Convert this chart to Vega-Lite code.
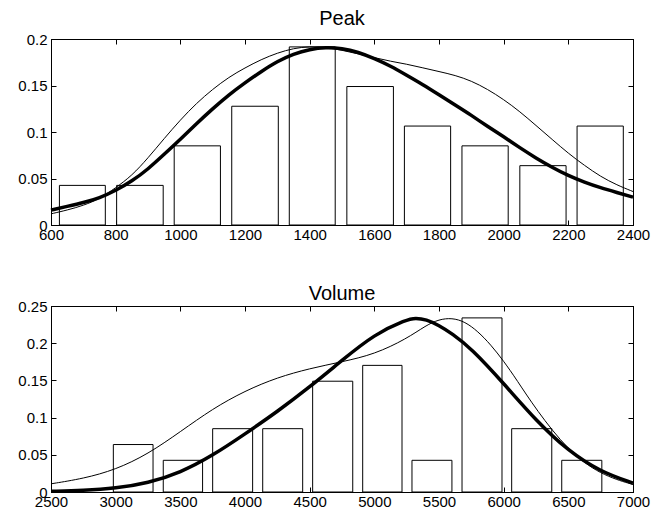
{
  "$schema": "https://vega.github.io/schema/vega-lite/v6.json",
  "padding": {"left": 17, "top": 8, "right": 5, "bottom": 0},
  "spacing": 40,
  "config": {
    "font": "Liberation Sans",
    "view": {"stroke": "black", "strokeWidth": 1},
    "axis": {"domainColor": "black", "tickColor": "black", "labelColor": "black", "labelFont": "Liberation Sans", "labelFontSize": 15, "grid": false, "title": null, "labelOverlap": false, "labelFlush": false},
    "title": {"font": "Liberation Sans", "fontSize": 20, "fontWeight": "normal", "color": "black", "baseline": "alphabetic"}
  },
  "datasets": {
    "peakBars": [
      {"x0": 626, "x1": 768, "density": 0.0426},
      {"x0": 803, "x1": 947, "density": 0.0426},
      {"x0": 981, "x1": 1124, "density": 0.0851},
      {"x0": 1159, "x1": 1303, "density": 0.1277},
      {"x0": 1337, "x1": 1479, "density": 0.1915},
      {"x0": 1515, "x1": 1659, "density": 0.1489},
      {"x0": 1693, "x1": 1836, "density": 0.1064},
      {"x0": 1871, "x1": 2014, "density": 0.0851},
      {"x0": 2050, "x1": 2193, "density": 0.0638},
      {"x0": 2227, "x1": 2370, "density": 0.1064}
    ],
    "peakKde": [
      {"x": 600, "density": 0.012}, {"x": 650, "density": 0.016}, {"x": 700, "density": 0.021}, {"x": 750, "density": 0.028},
      {"x": 800, "density": 0.040}, {"x": 850, "density": 0.053}, {"x": 900, "density": 0.072}, {"x": 950, "density": 0.093},
      {"x": 1000, "density": 0.113}, {"x": 1050, "density": 0.131}, {"x": 1100, "density": 0.146}, {"x": 1150, "density": 0.159},
      {"x": 1200, "density": 0.169}, {"x": 1250, "density": 0.178}, {"x": 1300, "density": 0.185}, {"x": 1350, "density": 0.190},
      {"x": 1400, "density": 0.192}, {"x": 1450, "density": 0.191}, {"x": 1500, "density": 0.188}, {"x": 1550, "density": 0.184},
      {"x": 1600, "density": 0.180}, {"x": 1650, "density": 0.176}, {"x": 1700, "density": 0.173}, {"x": 1750, "density": 0.169},
      {"x": 1800, "density": 0.165}, {"x": 1850, "density": 0.161}, {"x": 1900, "density": 0.155}, {"x": 1950, "density": 0.146},
      {"x": 2000, "density": 0.135}, {"x": 2050, "density": 0.122}, {"x": 2100, "density": 0.107}, {"x": 2150, "density": 0.092},
      {"x": 2200, "density": 0.077}, {"x": 2250, "density": 0.064}, {"x": 2300, "density": 0.052}, {"x": 2350, "density": 0.043},
      {"x": 2400, "density": 0.036}
    ],
    "peakFit": [
      {"x": 600, "density": 0.016}, {"x": 650, "density": 0.020}, {"x": 700, "density": 0.024}, {"x": 750, "density": 0.029},
      {"x": 800, "density": 0.037}, {"x": 850, "density": 0.047}, {"x": 900, "density": 0.060}, {"x": 950, "density": 0.076},
      {"x": 1000, "density": 0.092}, {"x": 1050, "density": 0.109}, {"x": 1100, "density": 0.125}, {"x": 1150, "density": 0.140},
      {"x": 1200, "density": 0.153}, {"x": 1250, "density": 0.165}, {"x": 1300, "density": 0.176}, {"x": 1350, "density": 0.184},
      {"x": 1400, "density": 0.189}, {"x": 1450, "density": 0.191}, {"x": 1500, "density": 0.190}, {"x": 1550, "density": 0.186},
      {"x": 1600, "density": 0.179}, {"x": 1650, "density": 0.171}, {"x": 1700, "density": 0.161}, {"x": 1750, "density": 0.151},
      {"x": 1800, "density": 0.140}, {"x": 1850, "density": 0.129}, {"x": 1900, "density": 0.118}, {"x": 1950, "density": 0.106},
      {"x": 2000, "density": 0.095}, {"x": 2050, "density": 0.083}, {"x": 2100, "density": 0.072}, {"x": 2150, "density": 0.062},
      {"x": 2200, "density": 0.053}, {"x": 2250, "density": 0.046}, {"x": 2300, "density": 0.040}, {"x": 2350, "density": 0.035},
      {"x": 2400, "density": 0.030}
    ],
    "volBars": [
      {"x0": 2982, "x1": 3289, "density": 0.0638},
      {"x0": 3368, "x1": 3672, "density": 0.0426},
      {"x0": 3750, "x1": 4059, "density": 0.0851},
      {"x0": 4137, "x1": 4446, "density": 0.0851},
      {"x0": 4523, "x1": 4833, "density": 0.1489},
      {"x0": 4910, "x1": 5214, "density": 0.1702},
      {"x0": 5291, "x1": 5600, "density": 0.0426},
      {"x0": 5678, "x1": 5987, "density": 0.2340},
      {"x0": 6062, "x1": 6372, "density": 0.0851},
      {"x0": 6449, "x1": 6759, "density": 0.0426}
    ],
    "volKde": [
      {"x": 2500, "density": 0.011}, {"x": 2750, "density": 0.018}, {"x": 3000, "density": 0.030}, {"x": 3250, "density": 0.051},
      {"x": 3500, "density": 0.081}, {"x": 3750, "density": 0.112}, {"x": 4000, "density": 0.136}, {"x": 4250, "density": 0.154},
      {"x": 4500, "density": 0.166}, {"x": 4750, "density": 0.175}, {"x": 5000, "density": 0.185}, {"x": 5250, "density": 0.206},
      {"x": 5400, "density": 0.224}, {"x": 5500, "density": 0.232}, {"x": 5600, "density": 0.234}, {"x": 5700, "density": 0.229},
      {"x": 5800, "density": 0.216}, {"x": 5900, "density": 0.198}, {"x": 6000, "density": 0.176}, {"x": 6100, "density": 0.151},
      {"x": 6250, "density": 0.111}, {"x": 6500, "density": 0.055}, {"x": 6750, "density": 0.023}, {"x": 7000, "density": 0.010}
    ],
    "volFit": [
      {"x": 2500, "density": 0.001}, {"x": 2750, "density": 0.002}, {"x": 3000, "density": 0.005}, {"x": 3250, "density": 0.012},
      {"x": 3500, "density": 0.026}, {"x": 3750, "density": 0.049}, {"x": 4000, "density": 0.078}, {"x": 4250, "density": 0.108},
      {"x": 4500, "density": 0.141}, {"x": 4750, "density": 0.177}, {"x": 5000, "density": 0.212}, {"x": 5250, "density": 0.232},
      {"x": 5320, "density": 0.234}, {"x": 5400, "density": 0.232}, {"x": 5500, "density": 0.224}, {"x": 5600, "density": 0.213},
      {"x": 5750, "density": 0.193}, {"x": 6000, "density": 0.146}, {"x": 6250, "density": 0.096}, {"x": 6500, "density": 0.055},
      {"x": 6750, "density": 0.027}, {"x": 7000, "density": 0.012}
    ]
  },
  "vconcat": [
    {
      "title": {"text": "Peak", "offset": 3},
      "width": 582,
      "height": 186,
      "resolve": {"axis": {"x": "independent", "y": "independent"}},
      "layer": [
        {
          "data": {"name": "peakBars"},
          "mark": {"type": "rect", "fill": "white", "stroke": "black", "strokeWidth": 1},
          "encoding": {
            "x": {"field": "x0", "type": "quantitative", "scale": {"domain": [600, 2400], "nice": false, "zero": false},
                  "axis": {"orient": "bottom", "values": [600, 800, 1000, 1200, 1400, 1600, 1800, 2000, 2200, 2400], "format": "d", "tickSize": -5, "labelPadding": 7}},
            "x2": {"field": "x1"},
            "y": {"field": "density", "type": "quantitative", "scale": {"domain": [0, 0.2], "nice": false},
                  "axis": {"orient": "left", "values": [0, 0.05, 0.1, 0.15, 0.2], "format": ".2~f", "tickSize": -5, "labelPadding": 9}},
            "y2": {"datum": 0}
          }
        },
        {
          "data": {"name": "peakKde"},
          "mark": {"type": "line", "color": "black", "strokeWidth": 1, "interpolate": "basis"},
          "encoding": {
            "x": {"field": "x", "type": "quantitative", "axis": {"orient": "top", "values": [600, 800, 1000, 1200, 1400, 1600, 1800, 2000, 2200, 2400], "labels": false, "tickSize": -5}},
            "y": {"field": "density", "type": "quantitative", "axis": {"orient": "right", "values": [0, 0.05, 0.1, 0.15, 0.2], "labels": false, "tickSize": -5}}
          }
        },
        {
          "data": {"name": "peakFit"},
          "mark": {"type": "line", "color": "black", "strokeWidth": 3.5, "interpolate": "basis"},
          "encoding": {
            "x": {"field": "x", "type": "quantitative", "axis": null},
            "y": {"field": "density", "type": "quantitative", "axis": null}
          }
        }
      ]
    },
    {
      "title": {"text": "Volume", "offset": -5},
      "width": 582,
      "height": 186,
      "resolve": {"axis": {"x": "independent", "y": "independent"}},
      "layer": [
        {
          "data": {"name": "volBars"},
          "mark": {"type": "rect", "fill": "white", "stroke": "black", "strokeWidth": 1},
          "encoding": {
            "x": {"field": "x0", "type": "quantitative", "scale": {"domain": [2500, 7000], "nice": false, "zero": false},
                  "axis": {"orient": "bottom", "values": [2500, 3000, 3500, 4000, 4500, 5000, 5500, 6000, 6500, 7000], "format": "d", "tickSize": -5, "labelPadding": 7}},
            "x2": {"field": "x1"},
            "y": {"field": "density", "type": "quantitative", "scale": {"domain": [0, 0.25], "nice": false},
                  "axis": {"orient": "left", "values": [0, 0.05, 0.1, 0.15, 0.2, 0.25], "format": ".2~f", "tickSize": -5, "labelPadding": 9}},
            "y2": {"datum": 0}
          }
        },
        {
          "data": {"name": "volKde"},
          "mark": {"type": "line", "color": "black", "strokeWidth": 1, "interpolate": "basis"},
          "encoding": {
            "x": {"field": "x", "type": "quantitative", "axis": {"orient": "top", "values": [2500, 3000, 3500, 4000, 4500, 5000, 5500, 6000, 6500, 7000], "labels": false, "tickSize": -5}},
            "y": {"field": "density", "type": "quantitative", "axis": {"orient": "right", "values": [0, 0.05, 0.1, 0.15, 0.2, 0.25], "labels": false, "tickSize": -5}}
          }
        },
        {
          "data": {"name": "volFit"},
          "mark": {"type": "line", "color": "black", "strokeWidth": 3.5, "interpolate": "basis"},
          "encoding": {
            "x": {"field": "x", "type": "quantitative", "axis": null},
            "y": {"field": "density", "type": "quantitative", "axis": null}
          }
        }
      ]
    }
  ]
}
